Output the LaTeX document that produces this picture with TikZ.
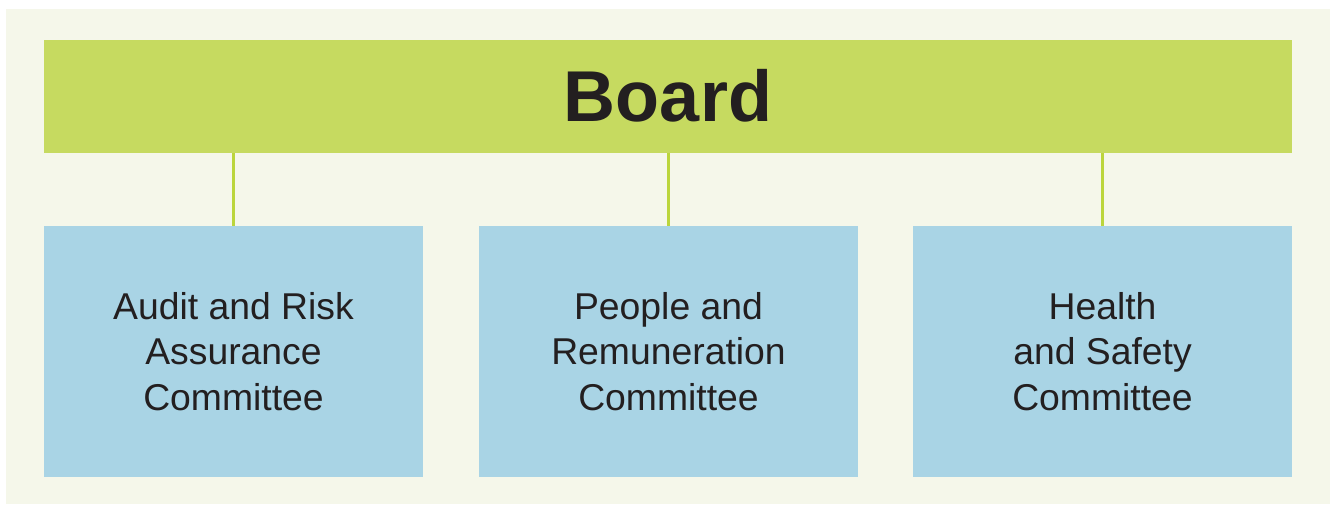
\documentclass[tikz,border=0pt]{standalone}
\usepackage{fontspec}
\setmainfont{Liberation Sans}
\usepackage{tikz}
\usetikzlibrary{positioning}
\definecolor{bgcream}{HTML}{F5F7EA}
\definecolor{boardgreen}{HTML}{C6DA60}
\definecolor{linegreen}{HTML}{BBD53C}
\definecolor{boxblue}{HTML}{A9D4E5}
\definecolor{textdark}{HTML}{231F20}
\tikzset{%
	board/.style    = {fill=boardgreen, rectangle, minimum width = 1248*0.75pt,
		minimum height = 113*0.75pt, inner sep=0pt, text=textdark,
		font=\fontsize{54}{58}\selectfont\bfseries},
	committee/.style = {fill=boxblue, rectangle, minimum width = 379*0.75pt,
		minimum height = 251*0.75pt, align=center, text=textdark,
		font=\fontsize{28}{34}\selectfont}, % Committee box
	link/.style     = {draw=linegreen, line width=2.3pt}
}
\begin{document}
\begin{tikzpicture}[x=0.75pt,y=-0.75pt]
			\useasboundingbox (0,0) rectangle (1330,504);
			\fill[bgcream] (6,9) rectangle (1330,504);
			
			\node[board] (board) at (668,96) {Board};
			\node[committee] (audit) at (233.5,351.5) {Audit and Risk\\Assurance\\Committee};
			\node[committee] (people) at (668.5,351.5) {People and\\Remuneration\\Committee};
			\node[committee] (health) at (1102.5,351.5) {Health\\and Safety\\Committee};
			
			\draw[link] (audit.north |- board.south) -- (audit.north);
			\draw[link] (people.north |- board.south) -- (people.north);
			\draw[link] (health.north |- board.south) -- (health.north);
		\end{tikzpicture}
\end{document}
